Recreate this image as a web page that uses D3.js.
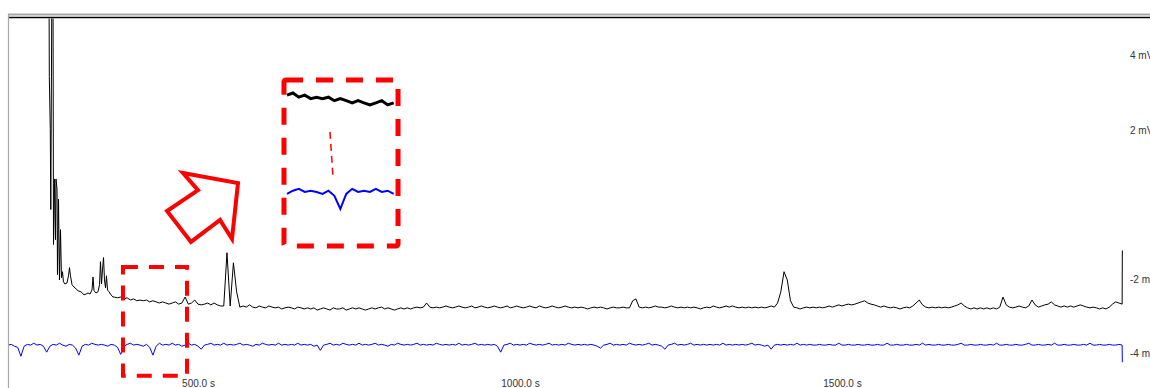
<!DOCTYPE html>
<html>
<head>
<meta charset="utf-8">
<script src="https://cdn.jsdelivr.net/npm/d3@7"></script>
<style>
  html, body { margin: 0; padding: 0; background: #fff; }
  svg { display: block; }
</style>
</head>
<body>
<svg id="chart" width="1150" height="388"></svg>
<script>
// ---------- DATA ----------
// x tick labels (seconds) and y tick labels (mV)
const timeTicks = [500, 1000, 1500];
const mvTicks = [4, 2, -2, -4];

// Black trace: onset artefact, explicit [time s, mV]
const blackOnset = [
  [268.6, 6.62], [269.1, 3.43], [270.6, 2.03], [271.4, -0.14], [273.3, 6.62], [274.8, 6.62],
  [275.6, -1.08], [277.2, 0.68], [278.7, -0.95], [279.5, 0.68], [281.1, 0.41], [281.8, -1.89],
  [283.4, 0.14], [284.9, -2.03], [286.5, -0.68], [288.0, -1.97], [289.6, -1.81], [291.1, -2.08],
  [293.5, -2.14], [296.6, -2.11], [298.9, -1.92], [300.5, -1.70], [302.0, -1.92], [304.4, -2.16],
  [307.5, -2.22], [310.6, -2.27], [313.7, -2.32], [318.3, -2.35], [323.0, -2.43], [326.1, -2.41],
  [329.2, -2.38], [332.3, -2.41], [335.4, -2.30], [337.0, -1.95], [338.5, -2.32], [341.6, -2.38],
  [344.7, -2.35], [347.1, -2.16], [348.6, -1.54], [350.2, -2.14], [351.7, -1.76], [353.3, -1.43],
  [354.8, -2.03], [356.4, -2.24], [357.9, -1.92], [359.5, -2.30], [361.8, -2.35], [364.9, -2.43],
  [368.0, -2.49]
];
// Black trace: sampled every 5 s from 370 s (mV)
const blackStart = 370, blackStep = 5;
const blackMv = [
  -2.49, -2.51, -2.49, -2.54, -2.51, -2.57, -2.54, -2.59, -2.57, -2.59,
  -2.57, -2.62, -2.59, -2.62, -2.65, -2.62, -2.65, -2.68, -2.65, -2.62,
  -2.68, -2.65, -2.49, -2.68, -2.65, -2.57, -2.68, -2.70, -2.68, -2.65,
  -2.70, -2.65, -2.70, -2.73, -2.73, -1.30, -2.73, -1.57, -2.35, -2.76,
  -2.73, -2.76, -2.70, -2.76, -2.78, -2.73, -2.76, -2.78, -2.73, -2.76,
  -2.78, -2.76, -2.81, -2.78, -2.76, -2.78, -2.81, -2.76, -2.78, -2.81,
  -2.78, -2.81, -2.78, -2.84, -2.81, -2.78, -2.81, -2.84, -2.78, -2.81,
  -2.81, -2.78, -2.84, -2.81, -2.78, -2.81, -2.78, -2.81, -2.84, -2.81,
  -2.78, -2.81, -2.78, -2.76, -2.81, -2.78, -2.81, -2.84, -2.81, -2.78,
  -2.81, -2.78, -2.81, -2.78, -2.76, -2.78, -2.76, -2.65, -2.76, -2.78,
  -2.76, -2.78, -2.76, -2.73, -2.76, -2.78, -2.76, -2.73, -2.76, -2.78,
  -2.76, -2.73, -2.78, -2.76, -2.73, -2.76, -2.78, -2.76, -2.73, -2.76,
  -2.78, -2.76, -2.73, -2.78, -2.76, -2.73, -2.76, -2.78, -2.76, -2.73,
  -2.76, -2.78, -2.73, -2.76, -2.78, -2.76, -2.73, -2.76, -2.78, -2.76,
  -2.73, -2.76, -2.78, -2.76, -2.78, -2.76, -2.78, -2.81, -2.78, -2.76,
  -2.78, -2.76, -2.78, -2.81, -2.78, -2.76, -2.78, -2.78, -2.76, -2.78,
  -2.78, -2.59, -2.54, -2.76, -2.78, -2.76, -2.78, -2.76, -2.73, -2.76,
  -2.76, -2.78, -2.76, -2.73, -2.76, -2.78, -2.76, -2.78, -2.76, -2.78,
  -2.76, -2.78, -2.81, -2.78, -2.76, -2.78, -2.73, -2.76, -2.78, -2.76,
  -2.73, -2.76, -2.73, -2.76, -2.78, -2.76, -2.78, -2.76, -2.78, -2.76,
  -2.78, -2.76, -2.78, -2.76, -2.73, -2.76, -2.65, -2.35, -1.81, -2.03,
  -2.59, -2.76, -2.78, -2.81, -2.78, -2.76, -2.78, -2.76, -2.78, -2.76,
  -2.78, -2.76, -2.73, -2.76, -2.73, -2.70, -2.73, -2.70, -2.68, -2.70,
  -2.68, -2.65, -2.62, -2.59, -2.65, -2.68, -2.70, -2.73, -2.76, -2.73,
  -2.76, -2.78, -2.76, -2.78, -2.81, -2.78, -2.76, -2.78, -2.73, -2.65,
  -2.57, -2.70, -2.76, -2.78, -2.76, -2.78, -2.76, -2.78, -2.76, -2.78,
  -2.76, -2.73, -2.70, -2.65, -2.73, -2.78, -2.81, -2.78, -2.81, -2.78,
  -2.81, -2.78, -2.81, -2.78, -2.81, -2.76, -2.49, -2.70, -2.76, -2.78,
  -2.76, -2.73, -2.76, -2.78, -2.73, -2.57, -2.70, -2.76, -2.73, -2.70,
  -2.68, -2.62, -2.70, -2.73, -2.76, -2.73, -2.76, -2.73, -2.76, -2.73,
  -2.70, -2.73, -2.76, -2.78, -2.76, -2.78, -2.81, -2.78, -2.81, -2.76,
  -2.68, -2.62, -2.65, -2.68
];
const blackEnd = [[1935.3, -1.24]];

// Blue trace: sampled every 5 s from 205 s (mV)
const blueStart = 205, blueStep = 5;
const blueMv = [
  -3.78, -3.76, -3.81, -3.84, -4.08, -3.81, -3.76, -3.78, -3.73, -3.78,
  -3.76, -3.81, -3.97, -3.81, -3.76, -3.78, -3.73, -3.78, -3.81, -3.76,
  -3.78, -3.86, -4.05, -3.81, -3.76, -3.78, -3.73, -3.76, -3.78, -3.76,
  -3.78, -3.81, -3.76, -3.78, -3.84, -4.03, -3.81, -3.76, -3.73, -3.78,
  -3.76, -3.78, -3.81, -3.76, -3.84, -4.05, -3.81, -3.73, -3.78, -3.76,
  -3.78, -3.73, -3.78, -3.76, -3.81, -3.78, -3.73, -3.78, -3.76, -3.81,
  -3.89, -3.78, -3.76, -3.73, -3.78, -3.76, -3.78, -3.73, -3.78, -3.76,
  -3.78, -3.76, -3.73, -3.78, -3.76, -3.78, -3.81, -3.76, -3.78, -3.73,
  -3.76, -3.78, -3.76, -3.78, -3.73, -3.78, -3.76, -3.78, -3.76, -3.78,
  -3.73, -3.78, -3.76, -3.78, -3.76, -3.81, -3.78, -3.92, -3.78, -3.76,
  -3.73, -3.78, -3.76, -3.78, -3.73, -3.76, -3.78, -3.76, -3.78, -3.73,
  -3.78, -3.76, -3.78, -3.76, -3.73, -3.78, -3.76, -3.78, -3.81, -3.76,
  -3.78, -3.73, -3.76, -3.78, -3.76, -3.78, -3.76, -3.73, -3.78, -3.76,
  -3.78, -3.76, -3.78, -3.73, -3.76, -3.78, -3.76, -3.78, -3.76, -3.78,
  -3.73, -3.78, -3.76, -3.78, -3.76, -3.73, -3.78, -3.76, -3.78, -3.76,
  -3.78, -3.76, -3.81, -3.97, -3.78, -3.76, -3.73, -3.78, -3.76, -3.78,
  -3.76, -3.78, -3.73, -3.76, -3.78, -3.76, -3.78, -3.76, -3.73, -3.78,
  -3.76, -3.78, -3.76, -3.78, -3.73, -3.76, -3.78, -3.76, -3.78, -3.76,
  -3.78, -3.76, -3.78, -3.81, -3.86, -3.78, -3.76, -3.73, -3.78, -3.76,
  -3.78, -3.76, -3.78, -3.73, -3.76, -3.78, -3.76, -3.78, -3.76, -3.73,
  -3.78, -3.76, -3.78, -3.81, -3.89, -3.78, -3.76, -3.73, -3.78, -3.76,
  -3.78, -3.76, -3.73, -3.78, -3.76, -3.78, -3.76, -3.78, -3.76, -3.78,
  -3.76, -3.78, -3.73, -3.78, -3.76, -3.78, -3.76, -3.78, -3.76, -3.78,
  -3.76, -3.73, -3.78, -3.76, -3.78, -3.81, -3.78, -3.89, -3.78, -3.76,
  -3.78, -3.76, -3.78, -3.76, -3.78, -3.73, -3.78, -3.76, -3.78, -3.76,
  -3.78, -3.78, -3.76, -3.78, -3.78, -3.76, -3.78, -3.78, -3.73, -3.78,
  -3.78, -3.76, -3.78, -3.78, -3.76, -3.78, -3.78, -3.76, -3.78, -3.78,
  -3.76, -3.78, -3.78, -3.73, -3.78, -3.78, -3.76, -3.78, -3.78, -3.76,
  -3.78, -3.78, -3.76, -3.78, -3.73, -3.78, -3.76, -3.78, -3.78, -3.76,
  -3.78, -3.78, -3.76, -3.78, -3.78, -3.76, -3.73, -3.78, -3.78, -3.76,
  -3.78, -3.78, -3.76, -3.78, -3.78, -3.76, -3.78, -3.73, -3.78, -3.78,
  -3.76, -3.78, -3.78, -3.76, -3.78, -3.78, -3.76, -3.73, -3.78, -3.78,
  -3.76, -3.78, -3.78, -3.76, -3.78, -3.73, -3.78, -3.78, -3.76, -3.78,
  -3.78, -3.76, -3.78, -3.78, -3.76, -3.78, -3.73, -3.78, -3.78, -3.76,
  -3.78, -3.78, -3.76, -3.78, -3.78, -3.76, -3.78
];
const blueEnd = [[1935.3, -4.24]];

// Annotations (data units: seconds, mV)
const zoomWindow = { t0: 383.5, t1: 482.9, v0: -1.68, v1: -4.60 };
const insetBox = { t0: 633.5, t1: 810.6, v0: 3.34, v1: -1.12 };
const insetWindow = [385, 477];
const arrowShape = [[476.7, 0.84], [562.1, 0.57], [552.8, -0.93], [534.2, -0.42], [489.1, -1.01], [451.9, -0.18], [500.0, 0.38]];

// ---------- CHART ----------
const svg = d3.select("#chart");
const W = 1150, H = 388;
const x = d3.scaleLinear().domain([500, 1500]).range([198, 842]);
const y = d3.scaleLinear().domain([4, -4]).range([55.3, 353.3]);

const blackData = blackOnset
  .concat(blackMv.map((v, i) => [blackStart + i * blackStep, v]))
  .concat(blackEnd);
const blueData = blueMv.map((v, i) => [blueStart + i * blueStep, v]).concat(blueEnd);

// frame
svg.append("line").attr("x1", 8).attr("x2", W).attr("y1", 14.5).attr("y2", 14.5)
  .attr("stroke", "#a8a8a8").attr("stroke-width", 2);
svg.append("line").attr("x1", 8).attr("x2", W).attr("y1", 17.5).attr("y2", 17.5)
  .attr("stroke", "#000").attr("stroke-width", 1.5);
svg.append("line").attr("x1", 8.5).attr("x2", 8.5).attr("y1", 14).attr("y2", H)
  .attr("stroke", "#a8a8a8").attr("stroke-width", 1.2);

svg.append("clipPath").attr("id", "plotclip")
  .append("rect").attr("x", 9).attr("y", 18.5).attr("width", W - 9).attr("height", H - 18.5);

const line = d3.line().x(d => x(d[0])).y(d => y(d[1]));
const plot = svg.append("g").attr("clip-path", "url(#plotclip)");

plot.append("path").datum(blueData).attr("d", line)
  .attr("fill", "none").attr("stroke", "#0000ff").attr("stroke-width", 1);
plot.append("path").datum(blackData).attr("d", line)
  .attr("fill", "none").attr("stroke", "#000").attr("stroke-width", 1);

// right axis
const yAxis = d3.axisRight(y).tickValues(mvTicks).tickFormat(d => d + " mV").tickSize(0).tickPadding(0);
const gy = svg.append("g").attr("transform", "translate(1130,0)").call(yAxis);
gy.select(".domain").remove();
gy.selectAll("text").attr("font-family", "'Liberation Sans', Arial, sans-serif")
  .attr("font-size", 10).attr("fill", "#333").attr("x", 0).attr("dy", "0.35em");

// bottom axis
const xAxis = d3.axisBottom(x).tickValues(timeTicks).tickFormat(d => d.toFixed(1) + " s").tickSize(0);
const gx = svg.append("g").attr("transform", "translate(0,387)").call(xAxis);
gx.select(".domain").remove();
gx.selectAll("text").attr("font-family", "'Liberation Sans', Arial, sans-serif")
  .attr("font-size", 10).attr("fill", "#333").attr("y", 0).attr("dy", 0);

// annotations
const red = "#ff0000";
svg.append("rect")
  .attr("x", x(zoomWindow.t0)).attr("y", y(zoomWindow.v0))
  .attr("width", x(zoomWindow.t1) - x(zoomWindow.t0)).attr("height", y(zoomWindow.v1) - y(zoomWindow.v0))
  .attr("fill", "none").attr("stroke", red).attr("stroke-width", 4).attr("stroke-dasharray", "15,11");

svg.append("polygon")
  .attr("points", arrowShape.map(d => [x(d[0]), y(d[1])].join(",")).join(" "))
  .attr("fill", "none").attr("stroke", red).attr("stroke-width", 4).attr("stroke-linejoin", "miter");

const bx0 = x(insetBox.t0), bx1 = x(insetBox.t1), by0 = y(insetBox.v0), by1 = y(insetBox.v1);
svg.append("rect").attr("x", bx0).attr("y", by0).attr("width", bx1 - bx0).attr("height", by1 - by0)
  .attr("rx", 2).attr("fill", "none").attr("stroke", red).attr("stroke-width", 5)
  .attr("stroke-dasharray", "17,13");

// inset: magnified view of the dashed window
const xi = d3.scaleLinear().domain(insetWindow).range([bx0 + 3, bx1 - 2]);
const yiBlack = d3.scaleLinear().domain([-2.61, -2.71]).range([100, 107]);
const yiBlue = d3.scaleLinear().domain([-3.78, -4.05]).range([192, 209]);
const inWin = d => d[0] >= insetWindow[0] && d[0] <= insetWindow[1];
svg.append("path").datum(blackData.filter(inWin))
  .attr("d", d3.line().x(d => xi(d[0])).y(d => yiBlack(d[1])))
  .attr("fill", "none").attr("stroke", "#000").attr("stroke-width", 3);
svg.append("path").datum(blueData.filter(inWin))
  .attr("d", d3.line().x(d => xi(d[0])).y(d => yiBlue(d[1])))
  .attr("fill", "none").attr("stroke", "#0000ff").attr("stroke-width", 2);
svg.append("line").attr("x1", bx0 + 46).attr("y1", by0 + 52).attr("x2", bx0 + 49).attr("y2", by0 + 97)
  .attr("stroke", red).attr("stroke-width", 1.5).attr("stroke-dasharray", "7,5");
</script>
</body>
</html>
